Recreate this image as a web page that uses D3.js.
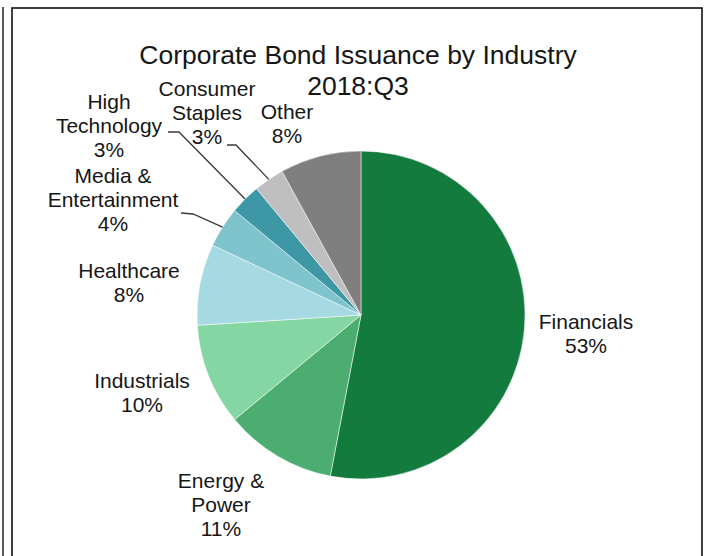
<!DOCTYPE html>
<html>
<head>
<meta charset="utf-8">
<script src="https://cdn.jsdelivr.net/npm/d3@7"></script>
<style>
  body { margin: 0; background: #fff; }
  svg { display: block; }
  text { font-family: "Liberation Sans", Arial, Helvetica, sans-serif; fill: #161616; }
</style>
</head>
<body>
<svg id="chart" width="705" height="556"></svg>
<script>
// Share of corporate bond issuance by industry, 2018:Q3 (percent)
const industries = ["Financials", "Energy & Power", "Industrials", "Healthcare",
                    "Media & Entertainment", "High Technology", "Consumer Staples", "Other"];
const shares = [53, 11, 10, 8, 4, 3, 3, 8];
const labelLines = [["Financials"], ["Energy &", "Power"], ["Industrials"], ["Healthcare"],
                    ["Media &", "Entertainment"], ["High", "Technology"], ["Consumer", "Staples"], ["Other"]];
const titleLines = ["Corporate Bond Issuance by Industry", "2018:Q3"];

// Slice fills, one per industry
const sliceColors = ["#127b3d", "#4bae70", "#84d6a2", "#a6dae3",
                     "#7fc3cd", "#3e97a5", "#bfbfbf", "#7f7f7f"];

// Layout: label block centre x and first baseline y
const labelAnchors = [[586, 329], [221, 488], [142, 388], [129, 278],
                      [113, 183], [109, 109], [207, 96], [287, 119]];
// Leader line start + elbow for the small slices (index -> points)
const leaderElbows = { 4: [[181, 213], [193, 214]], 5: [[168, 132], [179, 132]], 6: [[227, 145], [236, 145]] };

const W = 705, H = 556;
const cx = 361, cy = 315, R = 164;
const labelSize = 21, lineGap = 24;

const svg = d3.select("#chart");

// Panel frame
svg.append("line").attr("x1", 3).attr("x2", 3).attr("y1", 7).attr("y2", H)
  .attr("stroke", "#5a5a5a").attr("stroke-width", 2);
svg.append("rect").attr("x", 12).attr("y", 8).attr("width", 690).attr("height", H + 10)
  .attr("fill", "none").attr("stroke", "#111").attr("stroke-width", 1.6);

// Title
svg.append("text").attr("x", 358).attr("y", 64).attr("text-anchor", "middle")
  .attr("font-size", 26.5)
  .selectAll("tspan").data(titleLines).join("tspan")
  .attr("x", 358).attr("dy", (d, i) => i === 0 ? 0 : 31).text(d => d);

const data = industries.map((name, i) => ({ name, value: shares[i], i }));

const pie = d3.pie().sort(null).value(d => d.value).startAngle(0).endAngle(2 * Math.PI);
const arcs = pie(data);
const arc = d3.arc().innerRadius(0).outerRadius(R);
const rim = d3.arc().innerRadius(R).outerRadius(R);

const g = svg.append("g").attr("transform", `translate(${cx},${cy})`);

g.selectAll("path.slice").data(arcs).join("path")
  .attr("class", "slice")
  .attr("d", arc)
  .attr("fill", d => sliceColors[d.data.i])
  .attr("stroke", "#ffffff").attr("stroke-width", 0.5);

// Leader lines for the thin slices
const line = d3.line();
arcs.forEach(d => {
  const pts = leaderElbows[d.data.i];
  if (!pts) return;
  const [ex, ey] = rim.centroid(d);
  svg.append("path")
    .attr("d", line([...pts, [cx + ex, cy + ey]]))
    .attr("fill", "none").attr("stroke", "#3a3a3a").attr("stroke-width", 1.3);
});

// Category labels with percentages
const labels = svg.append("g").attr("font-size", labelSize).attr("text-anchor", "middle");
data.forEach(d => {
  const [lx, ly] = labelAnchors[d.i];
  const lines = [...labelLines[d.i], `${d.value}%`];
  labels.append("text").attr("x", lx).attr("y", ly)
    .selectAll("tspan").data(lines).join("tspan")
    .attr("x", lx).attr("dy", (t, k) => k === 0 ? 0 : lineGap).text(t => t);
});
</script>
</body>
</html>
